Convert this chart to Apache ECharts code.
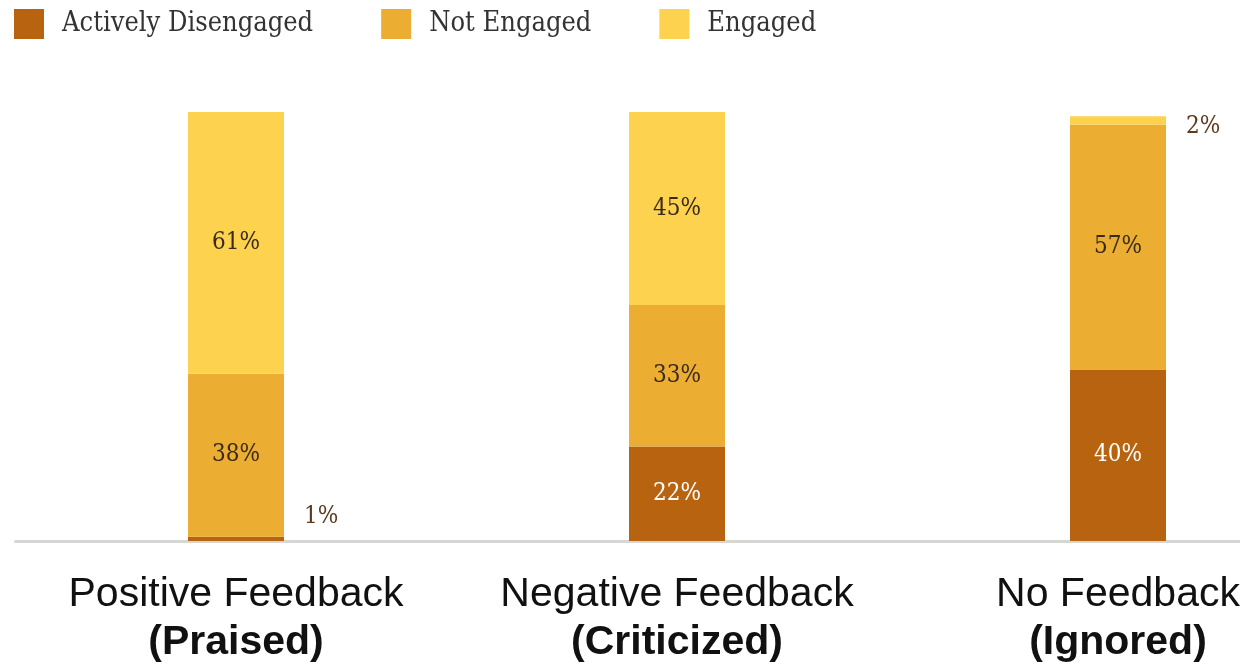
<!DOCTYPE html>
<html>
<head>
<meta charset="utf-8">
<script src="https://cdn.jsdelivr.net/npm/echarts@6/dist/echarts.min.js"></script>
<style>
  html, body { margin: 0; padding: 0; background: #fff; }
  #chart { width: 1240px; height: 664px; }
</style>
</head>
<body>
<div id="chart"></div>
<script>
// categories (two lines each)
const feedbackTypes = ['Positive Feedback', 'Negative Feedback', 'No Feedback'];
const feedbackNotes = ['(Praised)', '(Criticized)', '(Ignored)'];
// percentages per group
const activelyDisengaged = [1, 22, 40];
const notEngaged = [38, 33, 57];
const engaged = [61, 45, 2];

const chart = echarts.init(document.getElementById('chart'));

const serif = '"DejaVu Serif Condensed", "DejaVu Serif", serif';
const sans = '"Liberation Sans", Arial, sans-serif';

// small values get their label outside, to the right of the bar
function buildData(values, offsetY) {
  return values.map(v => {
    if (v >= 5) return v;
    return {
      value: v,
      label: {
        position: 'right',
        distance: 20,
        offset: [0, offsetY],
        color: '#5e3a1e'
      }
    };
  });
}

function makeSeries(name, values, color, textColor, smallOffset) {
  return {
    name: name,
    type: 'bar',
    stack: 'total',
    barWidth: 96,
    data: buildData(values, smallOffset),
    itemStyle: { color: color },
    label: {
      show: true,
      position: 'inside',
      formatter: '{c}%',
      fontFamily: serif,
      fontSize: 24,
      color: textColor
    }
  };
}

const option = {
  animation: false,
  legend: {
    left: 9,
    top: 4,
    itemWidth: 30,
    itemHeight: 30,
    itemGap: 68,
    icon: 'rect',
    textStyle: {
      fontFamily: serif,
      fontSize: 27,
      color: '#333',
      padding: [0, 0, 0, 13]
    },
    data: ['Actively Disengaged', 'Not Engaged', 'Engaged']
  },
  grid: {
    left: 15.5,
    top: 112,
    width: 1323,
    bottom: 123,
    outerBoundsMode: 'none'
  },
  xAxis: {
    type: 'category',
    data: feedbackTypes,
    axisLine: { lineStyle: { color: '#d6d6d2', width: 3 } },
    axisTick: { show: false },
    axisLabel: {
      margin: 30,
      interval: 0,
      formatter: (v, i) => '{a|' + v + '}\n{b|' + feedbackNotes[i] + '}',
      rich: {
        a: { fontFamily: sans, fontSize: 41, color: '#111', lineHeight: 48 },
        b: { fontFamily: sans, fontSize: 41, fontWeight: 'bold', color: '#111', lineHeight: 48 }
      }
    }
  },
  yAxis: {
    type: 'value',
    min: 0,
    max: 100,
    show: false
  },
  series: [
    makeSeries('Actively Disengaged', activelyDisengaged, '#b8630f', '#fff', -22),
    makeSeries('Not Engaged', notEngaged, '#ebae33', '#3a2a1c', 0),
    makeSeries('Engaged', engaged, '#fcd24f', '#3a2a1c', 6)
  ]
};

chart.setOption(option);
</script>
</body>
</html>
